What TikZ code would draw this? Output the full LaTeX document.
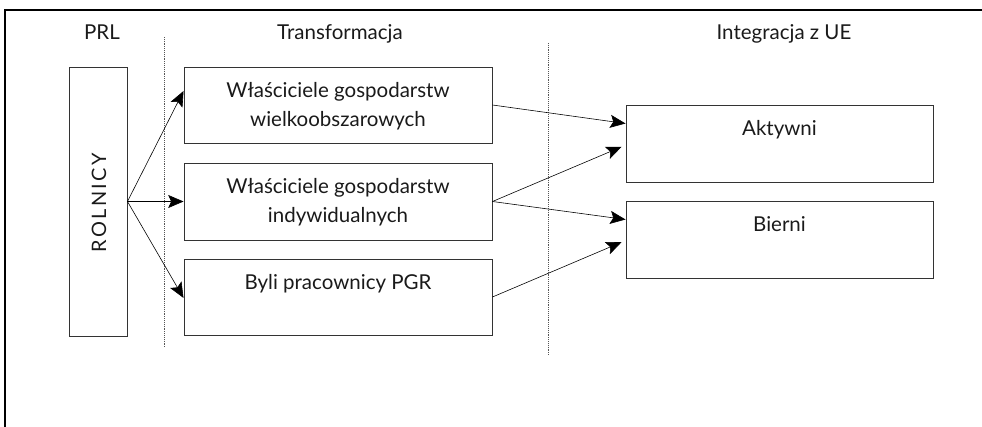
\documentclass[tikz,border=0pt]{standalone}
\usepackage{fontspec}
\setmainfont{Lato}
\usepackage{xcolor}
\usetikzlibrary{arrows.meta, positioning}
\definecolor{frame_gray}{HTML}{333333}
\definecolor{rule_gray}{HTML}{555555}
\definecolor{text_gray}{HTML}{1A1A1A}

\begin{document}
\begin{tikzpicture}[
        x=0.03cm, y=-0.03cm,
        box/.style={rectangle, draw=frame_gray, line width=0.8pt, inner sep=0pt},
        txt/.style={font=\fontsize{17.5}{25}\selectfont, text=text_gray, align=center, inner sep=0pt, anchor=north},
        head/.style={font=\fontsize{17.5}{25}\selectfont, text=text_gray, inner sep=0pt, anchor=base},
        divider/.style={rule_gray, densely dotted, line width=0.6pt},
        conn/.style={-{Stealth[length=4.6mm, width=3.9mm, inset=0.9mm]}, line width=0.5pt},
    ]
        \useasboundingbox (0,0) rectangle (982,427);
        % Frame
        \draw[black, line width=1.2pt] (982,10) -- (5,10) -- (5,427);

        % Headers
        \node[head] (h_prl) at (102,40) {PRL};
        \node[head] (h_tr) at (340,40) {Transformacja};
        \node[head] (h_ue) at (784,40) {Integracja z UE};

        % Dividers
        \draw[divider] (164,37) -- (164,348);
        \draw[divider] (548,43) -- (548,355);

        % Farmers
        \node[box, minimum width=1.74cm, minimum height=8.07cm] (rol) at (98,201.5) {};
        \node[font=\fontsize{17}{20}\selectfont\addfontfeatures{LetterSpace=12}, text=text_gray, rotate=90, inner sep=0pt] (rol_t) at (99,203) {ROLNICY};

        % Transformation groups
        \node[box, minimum width=9.24cm, minimum height=2.28cm] (w1) at (338,105) {};
        \node[box, minimum width=9.24cm, minimum height=2.31cm] (w2) at (338,201.5) {};
        \node[box, minimum width=9.24cm, minimum height=2.28cm] (w3) at (338,297) {};
        \node[txt, below=0.46cm of w1.north] (w1_t) {Właściciele gospodarstw\\wielkoobszarowych};
        \node[txt, below=0.46cm of w2.north] (w2_t) {Właściciele gospodarstw\\indywidualnych};
        \node[txt, below=0.46cm of w3.north] (w3_t) {Byli pracownicy PGR};

        % Integration
        \node[box, minimum width=9.21cm, minimum height=2.31cm] (akt) at (779.5,143.5) {};
        \node[box, minimum width=9.21cm, minimum height=2.31cm] (bie) at (779.5,239.5) {};
        \node[txt, below=0.46cm of akt.north] (akt_t) {Aktywni};
        \node[txt, below=0.46cm of bie.north] (bie_t) {Bierni};

        % Connections
        \draw[conn] (rol.east) -- ([yshift=0.42cm]w1.west);
        \draw[conn] (rol.east) -- (w2.west);
        \draw[conn] (rol.east) -- ([yshift=-0.03cm]w3.west);
        \draw[conn] (w1.east) -- ([yshift=0.6cm]akt.west);
        \draw[conn] (w2.east) -- ([xshift=-0.12cm, yshift=-0.1cm]akt.west);
        \draw[conn] (w2.east) -- ([yshift=0.6cm]bie.west);
        \draw[conn] (w3.east) -- ([xshift=-0.12cm, yshift=-0.08cm]bie.west);
    \end{tikzpicture}
\end{document}
